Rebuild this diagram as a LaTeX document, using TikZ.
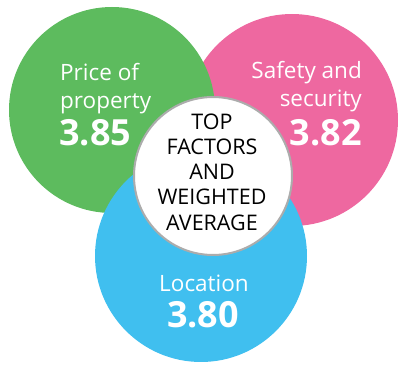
\documentclass[tikz,border=0pt]{standalone}
\usepackage{fontspec}
\setmainfont{Open Sans}
\definecolor{cgreen}{RGB}{93,187,94}
\definecolor{cpink}{RGB}{238,104,160}
\definecolor{cblue}{RGB}{64,191,239}
\definecolor{cring}{RGB}{172,172,172}
\tikzset{
  lbl/.style={text=white, inner sep=0pt, font=\fontsize{22.5}{26}\selectfont},
  num/.style={text=white, inner sep=0pt, font=\fontsize{36}{40}\selectfont\bfseries},
  ctr/.style={text=black, inner sep=0pt, anchor=base, font=\fontsize{21.5}{24}\selectfont},
}
\begin{document}
\begin{tikzpicture}[x=1pt,y=-1pt]
\useasboundingbox (0,0) rectangle (408,369);
\fill[cpink] (292,120) circle[radius=106pt];
\fill[cgreen] (112,110) circle[radius=103pt];
\fill[cblue] (201,256) circle[radius=106pt];
\draw[cring, line width=2pt, fill=white] (213,176) circle[radius=79pt];
% green
\node[lbl, anchor=base west] (g1) at (60,81) {Price of};
\node[lbl, anchor=base west] (g2) at (60,109) {property};
\node[num, anchor=base west] (g3) at (59,146) {3.85};
% pink
\node[lbl, anchor=base east] (p1) at (362,79) {Safety and};
\node[lbl, anchor=base east] (p2) at (362,107) {security};
\node[num, anchor=base east] (p3) at (362,146) {3.82};
% blue
\node[lbl, anchor=base] (b1) at (204,292) {Location};
\node[num, anchor=base] (b2) at (203,328) {3.80};
% centre
\node[ctr] (c1) at (212,130) {TOP};
\node[ctr] (c2) at (212,155) {FACTORS};
\node[ctr] (c3) at (212,180) {AND};
\node[ctr] (c4) at (212,205) {WEIGHTED};
\node[ctr] (c5) at (212,231) {AVERAGE};
\end{tikzpicture}
\end{document}
